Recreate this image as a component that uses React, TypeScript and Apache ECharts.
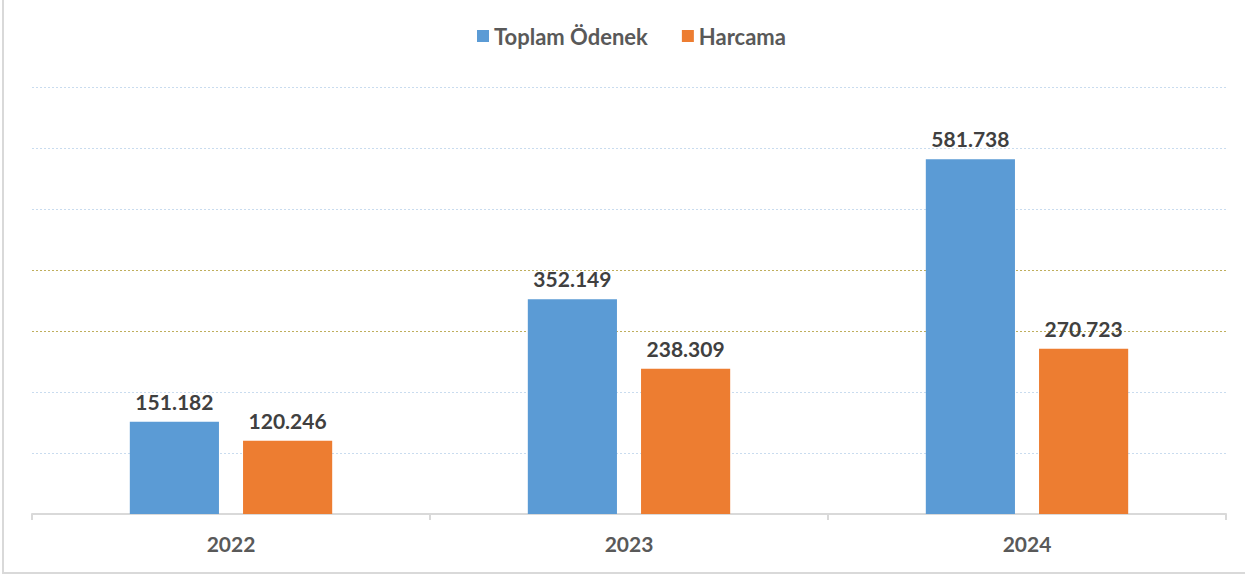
import React, { useEffect, useRef } from "react";
import * as echarts from "echarts";

const categories = ["2022", "2023", "2024"];
const toplamOdenek = [151.182, 352.149, 581.738];
const harcama = [120.246, 238.309, 270.723];
const seriesNames = ["Toplam Ödenek", "Harcama"];

const fmt = (v: number) => v.toFixed(3);

export default function App() {
  const ref = useRef<HTMLDivElement>(null);
  useEffect(() => {
    document.body.style.margin = "0";
    const chart = echarts.init(ref.current!, undefined, { renderer: "svg" });
    const font = "Lato, 'Open Sans', sans-serif";
    const blue = "#c9dcef";
    const olive = "#bfae5c";
    chart.setOption({
      animation: false,
      backgroundColor: "#ffffff",
      legend: {
        top: 20,
        left: 472,
        itemWidth: 12,
        itemHeight: 12,
        itemGap: 34,
        icon: "rect",
        textStyle: { fontFamily: font, fontWeight: "bold", fontSize: 22, color: "#595959" },
        data: seriesNames,
      },
      grid: { left: 32, right: 19, top: 87, bottom: 62, containLabel: false },
      xAxis: {
        type: "category",
        data: categories,
        axisLine: { lineStyle: { color: "#d9d9d9", width: 2 } },
        axisTick: { show: true, length: 6, lineStyle: { color: "#d9d9d9", width: 2 } },
        axisLabel: {
          margin: 19,
          fontFamily: font,
          fontWeight: "bold",
          fontSize: 21,
          color: "#595959",
        },
      },
      yAxis: {
        type: "value",
        min: 0,
        max: 700,
        interval: 100,
        axisLabel: { show: false },
        axisLine: { show: false },
        axisTick: { show: false },
        splitLine: {
          lineStyle: {
            type: [2, 2],
            width: 1,
            color: [blue, blue, blue, olive, olive, blue, blue, blue],
          },
        },
      },
      series: [
        {
          name: seriesNames[0],
          type: "bar",
          data: toplamOdenek,
          barWidth: "22.4%",
          barGap: "27%",
          itemStyle: { color: "#5b9bd5" },
          label: {
            show: true,
            position: "top",
            distance: 10,
            formatter: (p: any) => fmt(p.value),
            fontFamily: font,
            fontWeight: "bold",
            fontSize: 21,
            color: "#404040",
          },
        },
        {
          name: seriesNames[1],
          type: "bar",
          data: harcama,
          barWidth: "22.4%",
          itemStyle: { color: "#ed7d31" },
          label: {
            show: true,
            position: "top",
            distance: 10,
            formatter: (p: any) => fmt(p.value),
            fontFamily: font,
            fontWeight: "bold",
            fontSize: 21,
            color: "#404040",
          },
        },
      ],
    });
    return () => chart.dispose();
  }, []);
  return (
    <div style={{ width: 1245, height: 576, position: "relative" }}>
      <div ref={ref} style={{ width: 1245, height: 576 }} />
      <div
        style={{
          position: "absolute",
          left: 2,
          top: 0,
          width: 1243,
          height: 574,
          borderLeft: "2px solid #d9d9d9",
          borderBottom: "2px solid #d9d9d9",
          boxSizing: "border-box",
          pointerEvents: "none",
        }}
      />
    </div>
  );
}
